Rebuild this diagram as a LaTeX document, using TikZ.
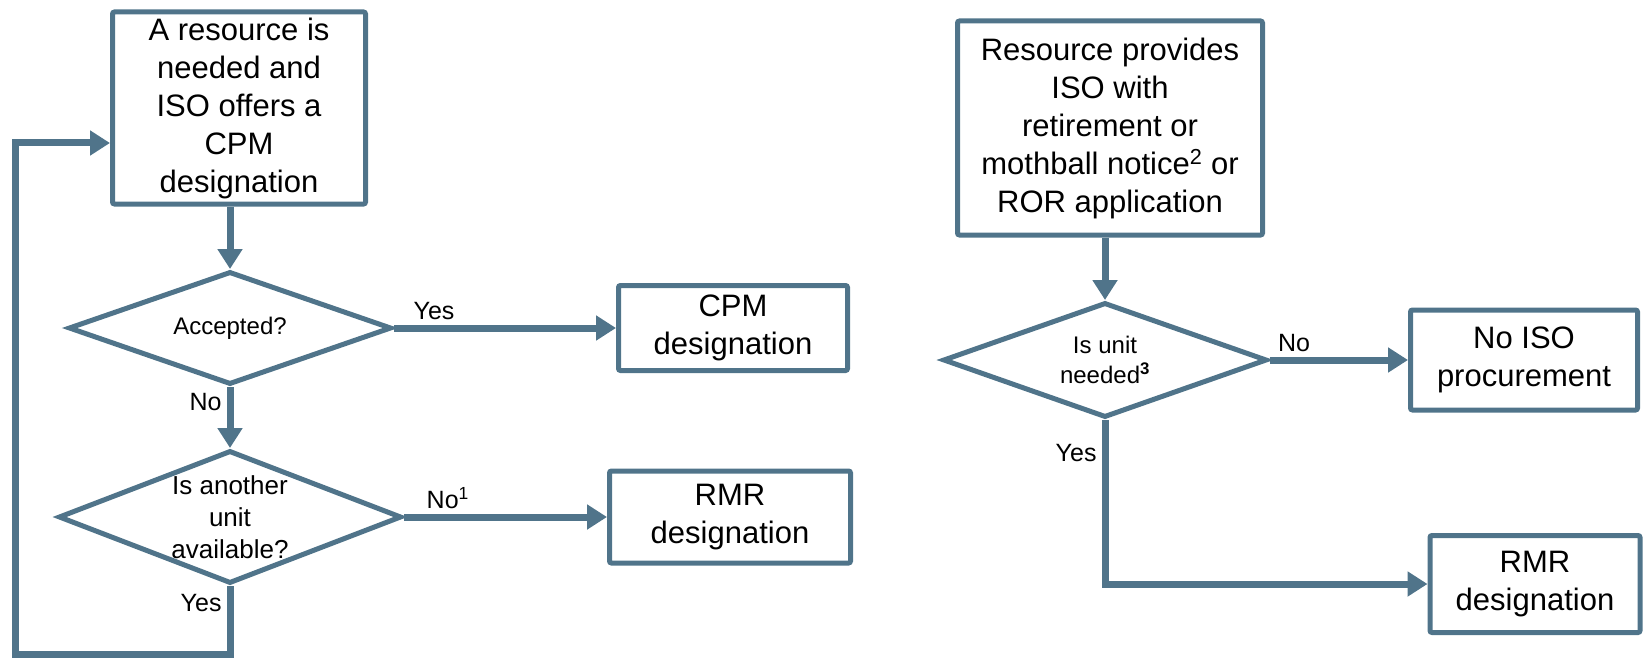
\documentclass[tikz,border=0pt]{standalone}
\usepackage{fontspec}
\setmainfont{Liberation Sans}
\usepackage{xcolor}
\usepackage{tikz}
\usetikzlibrary{arrows.meta}
\usetikzlibrary{shapes.geometric, calc}
\definecolor{flowblue}{RGB}{80,116,138}

\begin{document}
\begin{tikzpicture}[x=1pt, y=-1pt,
    box/.style={draw=flowblue, line width=5pt, rounded corners=2pt, align=center, inner sep=0pt, font=\fontsize{31}{38}\selectfont},
    decision/.style={draw=flowblue, line width=5pt, shape=diamond, inner sep=0pt},
    dtext/.style={align=center, inner sep=0pt},
    flow/.style={draw=flowblue, line width=7pt, -{Triangle[length=20pt,width=24pt]}},
    lbl/.style={font=\fontsize{25}{30}\selectfont, inner sep=5pt}]
                \useasboundingbox (0,0) rectangle (1646,658);
                % CPM side
                \node[box, minimum width=253pt, minimum height=192pt] (need) at (239,108) {A resource is\\needed and\\ISO offers a\\CPM\\designation};
                \node[decision, minimum width=323pt, minimum height=113pt, label={[dtext, font=\fontsize{24}{30}\selectfont]center:Accepted?}] (accept) at (230,328) {};
                \node[box, minimum width=229pt, minimum height=85pt] (cpm) at (733,328) {CPM\\designation};
                \node[decision, minimum width=343pt, minimum height=133pt, label={[dtext, font=\fontsize{26}{32}\selectfont]center:Is another\\unit\\available?}] (another) at (230,517) {};
                \node[box, minimum width=241pt, minimum height=92pt] (rmra) at (730,517) {RMR\\designation};
                \coordinate (loopcorner) at (15,654);
                \draw[flow] (accept.north |- need.south) -- (accept.north);
                \draw[flow] (accept.east) -- node[lbl, above right, pos=0.05] {Yes} (cpm.west);
                \draw[flow] (accept.south) -- node[lbl, left, pos=0.25] {No} (another.north);
                \draw[flow] (another.east) -- node[lbl, above right, pos=0.07] {No\textsuperscript{1}} (rmra.west);
                \draw[flow] (another.south) -- node[lbl, left, pos=0.25] {Yes} (loopcorner -| another.south) -- (loopcorner) |- ([yshift=-35pt]need.west);
                % RMR side
                \node[box, minimum width=305pt, minimum height=214pt] (notice) at (1110,128) {Resource provides\\ISO with\\retirement or\\mothball notice\textsuperscript{2} or\\ROR application};
                \node[decision, minimum width=324pt, minimum height=115pt, label={[dtext, font=\fontsize{24}{30}\selectfont]center:Is unit\\needed\textsuperscript{\textbf{3}}}] (unit) at (1105,360) {};
                \node[box, minimum width=227pt, minimum height=100pt] (noiso) at (1524,360) {No ISO\\procurement};
                \node[box, minimum width=210pt, minimum height=97pt] (rmrb) at (1535,584) {RMR\\designation};
                \draw[flow] (unit.north |- notice.south) -- (unit.north);
                \draw[flow] (unit.east) -- node[lbl, above right, pos=0.0] {No} (noiso.west);
                \draw[flow] (unit.south) |- node[lbl, left, pos=0.1] {Yes} (rmrb.west);
            \end{tikzpicture}
\end{document}
